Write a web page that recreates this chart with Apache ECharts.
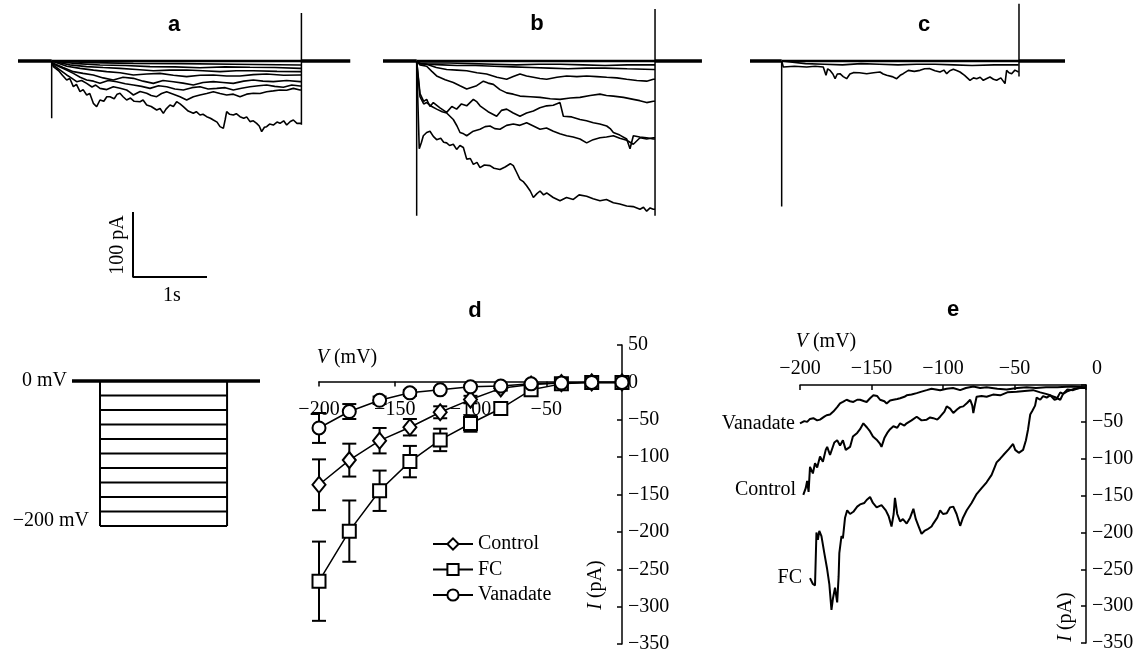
<!DOCTYPE html>
<html><head><meta charset="utf-8">
<script src="https://cdn.jsdelivr.net/npm/echarts@6/dist/echarts.min.js"></script>
<style>html,body{margin:0;padding:0;background:#fff}#c{width:1138px;height:654px}</style>
</head><body><div id="c"></div>
<script>
// ---------- Panel a (control traces): [time s, current pA] ----------
const aEdges = [0.455, 3.83, 4.49];          // step on, step off, end of record
const aSpikes = [-88, 74, -98];              // transient at on, at off (top, bottom)
const a1 = [[0.477,-8.7],[0.55,-15],[0.6,-22],[0.658,-29.2],[0.7,-27],[0.748,-39.5],[0.79,-36],[0.838,-47.2],[0.88,-44],[0.928,-52.3],[0.97,-50],[1.018,-65.1],[1.063,-70.3],[1.108,-60],[1.16,-62],[1.2,-55],[1.243,-54.9],[1.3,-58],[1.34,-51],[1.378,-49.7],[1.42,-55],[1.468,-60],[1.52,-57],[1.57,-62],[1.649,-62.6],[1.69,-60],[1.739,-67.7],[1.8,-70],[1.874,-75.4],[1.92,-73],[1.964,-80.5],[2.0,-74],[2.054,-67.7],[2.1,-70],[2.144,-62.6],[2.19,-66],[2.234,-70.3],[2.3,-77],[2.369,-80.5],[2.41,-78],[2.459,-83.1],[2.5,-82],[2.55,-85.6],[2.6,-88],[2.64,-90.8],[2.69,-94],[2.73,-101],[2.775,-103.6],[2.8,-90],[2.82,-77.9],[2.86,-82],[2.91,-83.1],[2.95,-81],[3.0,-85.6],[3.05,-88],[3.09,-86],[3.135,-93.3],[3.18,-92],[3.225,-95.9],[3.26,-100],[3.293,-108.7],[3.33,-102],[3.36,-101],[3.4,-97],[3.45,-98.5],[3.5,-94],[3.541,-95.9],[3.59,-92],[3.631,-98.5],[3.68,-93],[3.721,-90.8],[3.77,-96],[3.811,-95.9]];
const a2 = [[0.477,-6.2],[0.57,-14],[0.658,-21.5],[0.72,-26],[0.793,-31.8],[0.86,-30],[0.928,-34.4],[1.0,-40],[1.05,-37],[1.108,-42.1],[1.2,-44],[1.288,-39.5],[1.38,-42],[1.468,-44.6],[1.51,-48],[1.559,-52.3],[1.65,-47],[1.739,-49.7],[1.8,-53],[1.874,-54.9],[1.94,-50],[2.009,-47.2],[2.1,-51],[2.189,-54.9],[2.279,-60],[2.37,-55],[2.459,-52.3],[2.55,-50],[2.64,-47.2],[2.73,-50],[2.82,-52.3],[2.91,-51],[3.0,-54.9],[3.09,-51],[3.18,-49.7],[3.27,-50],[3.36,-47.2],[3.45,-46],[3.541,-44.6],[3.63,-45],[3.721,-42.1],[3.811,-44.6]];
const a3 = [[0.477,-4.6],[0.62,-12],[0.748,-19],[0.84,-25],[0.928,-29.2],[1.02,-31],[1.108,-34.4],[1.22,-30],[1.333,-31.8],[1.45,-35],[1.559,-36.9],[1.67,-39],[1.784,-42.1],[1.9,-38],[2.009,-39.5],[2.12,-43],[2.234,-44.6],[2.35,-41],[2.459,-39.5],[2.57,-43],[2.685,-42.1],[2.8,-41],[2.91,-44.6],[3.02,-42],[3.135,-39.5],[3.25,-38],[3.36,-36.9],[3.47,-39],[3.586,-40.5],[3.7,-37],[3.811,-38.5]];
const a4 = [[0.477,-3.6],[0.61,-10],[0.748,-16.4],[0.88,-19],[1.018,-21.5],[1.15,-26],[1.288,-29.2],[1.42,-25],[1.559,-26.7],[1.69,-31],[1.829,-34.4],[1.96,-30],[2.099,-31.8],[2.23,-34],[2.369,-36.9],[2.5,-33],[2.64,-31.8],[2.77,-33],[2.91,-34.4],[3.05,-31],[3.18,-29.2],[3.31,-31],[3.45,-31.8],[3.63,-30],[3.811,-31.8]];
const a5 = [[0.477,-2.6],[0.66,-8],[0.838,-11.3],[1.02,-14],[1.198,-16.4],[1.38,-18],[1.559,-21.5],[1.74,-20],[1.919,-19],[2.1,-22],[2.279,-24.1],[2.46,-22],[2.64,-21.5],[2.82,-23],[3.0,-23.1],[3.18,-21],[3.36,-20],[3.59,-22],[3.811,-21.5]];
const a6 = [[0.477,-2.1],[0.7,-6],[0.928,-8.7],[1.15,-10],[1.378,-11.3],[1.6,-13],[1.829,-14.9],[2.05,-14],[2.279,-13.8],[2.5,-15],[2.73,-16.4],[2.95,-15],[3.18,-14.9],[3.5,-16],[3.811,-16.4]];
const a7 = [[0.477,-1.5],[0.8,-4],[1.108,-6.2],[1.45,-7],[1.784,-8.7],[2.12,-9],[2.459,-10.3],[2.8,-9],[3.135,-9.7],[3.47,-10],[3.811,-11.3]];
const a8 = [[0.477,-1],[1.0,-2.5],[1.559,-3.6],[2.2,-4],[2.91,-5.1],[3.811,-6.2]];

// ---------- Panel b (FC traces) ----------
const bEdges = [0.455, 3.676, 4.31];
const bSpikes = [-238, 80, -238];
const b1 = [[0.49,-135],[0.52,-125],[0.545,-115],[0.59,-110],[0.635,-108],[0.68,-116],[0.725,-121],[0.78,-119],[0.82,-125],[0.86,-126],[0.9,-130],[0.95,-128],[0.995,-136],[1.04,-130],[1.086,-133],[1.131,-151],[1.18,-150],[1.221,-159],[1.27,-156],[1.311,-164],[1.37,-160],[1.446,-161],[1.5,-165],[1.581,-167],[1.65,-163],[1.72,-158],[1.761,-161],[1.8,-170],[1.851,-182],[1.9,-186],[1.941,-192],[1.99,-200],[2.032,-210],[2.08,-204],[2.122,-200],[2.17,-206],[2.212,-203],[2.3,-210],[2.392,-215],[2.48,-210],[2.572,-213],[2.65,-206],[2.752,-208],[2.84,-212],[2.932,-215],[3.02,-213],[3.113,-218],[3.2,-220],[3.293,-223],[3.38,-224],[3.473,-228],[3.52,-225],[3.563,-231],[3.61,-226],[3.653,-228]];
const b2 = [[0.5,-50],[0.55,-62],[0.59,-59],[0.635,-70],[0.68,-64],[0.77,-72],[0.86,-79],[0.93,-70],[0.995,-74],[1.06,-66],[1.131,-69],[1.221,-59],[1.27,-63],[1.311,-69],[1.42,-78],[1.536,-85],[1.6,-76],[1.671,-74],[1.76,-80],[1.851,-85],[1.94,-80],[2.032,-77],[2.12,-72],[2.212,-69],[2.3,-68],[2.392,-64],[2.437,-85],[2.55,-86],[2.662,-90],[2.75,-92],[2.842,-95],[2.93,-97],[3.023,-100],[3.07,-104],[3.113,-110],[3.2,-114],[3.293,-120],[3.338,-135],[3.383,-115],[3.47,-117],[3.563,-118],[3.653,-120]];
const b3 = [[0.5,-55],[0.55,-66],[0.59,-64],[0.66,-70],[0.725,-74],[0.8,-78],[0.86,-80],[0.95,-90],[1.0,-100],[1.041,-110],[1.09,-112],[1.131,-115],[1.22,-108],[1.311,-105],[1.38,-101],[1.446,-100],[1.51,-104],[1.581,-105],[1.67,-99],[1.761,-97],[1.85,-99],[1.941,-95],[2.032,-100],[2.122,-105],[2.21,-103],[2.302,-108],[2.39,-112],[2.482,-115],[2.57,-117],[2.662,-120],[2.752,-126],[2.84,-121],[2.932,-118],[3.02,-117],[3.113,-115],[3.2,-119],[3.293,-122],[3.383,-128],[3.473,-118],[3.563,-120],[3.653,-118]];
const b4 = [[0.5,-6],[0.59,-8],[0.66,-16],[0.725,-23],[0.84,-29],[0.95,-33],[1.04,-38],[1.131,-43],[1.266,-38],[1.356,-31],[1.42,-34],[1.491,-36],[1.58,-44],[1.671,-49],[1.76,-51],[1.851,-54],[1.99,-55],[2.122,-56],[2.26,-58],[2.392,-59],[2.53,-57],[2.662,-56],[2.8,-53],[2.932,-51],[3.02,-53],[3.113,-54],[3.25,-56],[3.383,-59],[3.47,-61],[3.563,-64],[3.653,-62]];
const b5 = [[0.5,-4],[0.59,-5],[0.72,-10],[0.86,-13],[1.0,-14],[1.131,-15],[1.27,-18],[1.4,-20],[1.54,-25],[1.671,-28],[1.76,-24],[1.851,-20],[1.94,-23],[2.032,-25],[2.12,-27],[2.212,-28],[2.35,-25],[2.482,-23],[2.62,-24],[2.752,-23],[2.89,-24],[3.023,-25],[3.16,-26],[3.293,-28],[3.43,-30],[3.563,-31],[3.653,-28]];
const b6 = [[0.5,-4],[0.59,-5],[0.8,-6],[1.0,-7],[1.25,-7],[1.5,-8],[1.75,-9],[2.0,-10],[2.25,-11],[2.5,-12],[2.75,-11],[3.0,-11],[3.3,-12],[3.653,-13]];
const b7 = [[0.5,-3],[0.59,-3],[0.9,-3],[1.2,-4],[1.5,-5],[1.8,-6],[2.1,-5],[2.4,-5],[2.7,-6],[3.0,-7],[3.3,-6],[3.653,-6]];

// ---------- Panel c (vanadate traces) ----------
const cEdges = [0.428, 3.635, 4.257];
const cSpikes = [-224, 88, -24];
const c1 = [[0.45,-9.2],[0.6,-8],[0.766,-9.2],[0.88,-8],[0.99,-9.2],[1.027,-22],[1.05,-12],[1.08,-14.4],[1.12,-20],[1.15,-27.2],[1.18,-20],[1.216,-19.5],[1.26,-24],[1.306,-27.2],[1.35,-20],[1.396,-17.9],[1.48,-18],[1.577,-19.5],[1.67,-18],[1.757,-16.9],[1.8,-20],[1.847,-22],[1.92,-24],[1.982,-27.2],[2.03,-22],[2.07,-19.5],[2.14,-14.4],[2.22,-16],[2.297,-14.4],[2.36,-12],[2.432,-11.8],[2.5,-15],[2.568,-16.9],[2.62,-14],[2.658,-19.5],[2.7,-15],[2.748,-12.8],[2.8,-15],[2.838,-16.9],[2.9,-22],[2.973,-29.7],[3.02,-26],[3.063,-27.2],[3.11,-25],[3.153,-29.7],[3.2,-27],[3.243,-24.6],[3.29,-28],[3.333,-29.7],[3.39,-26],[3.446,-34.8],[3.468,-14.4],[3.5,-18],[3.536,-19.5],[3.58,-14],[3.63,-16.9]];
const c2 = [[0.45,-3],[0.75,-4],[1.0,-5],[1.25,-6],[1.5,-4],[1.75,-5],[2.0,-6],[2.25,-5],[2.5,-5],[2.75,-6],[3.0,-7],[3.3,-6],[3.63,-6]];

// ---------- Scale bar and voltage protocol ----------
const scaleBar = [[0,100],[0,0],[1,0]];      // 100 pA, 1 s
const protoTimes = [0, 0.378, 2.095, 2.54];  // start, step on, step off, end
const protoLevels = [0,-20,-40,-60,-80,-100,-120,-140,-160,-180,-200];

// ---------- Panel d (I-V, mean ± SE) ----------
const dVoltage = [-200,-180,-160,-140,-120,-100,-80,-60,-40,-20,0];
const controlMean = [-137,-104,-78,-60,-40,-23,-8,-3,-1,0,0];
const controlSE   = [34,22,17,11,8,5,3,2,1,0,0];
const fcMean = [-266,-199,-145,-106,-77,-55,-35,-10,-2,0,0];
const fcSE   = [53,41,27,21,15,11,8,3,1,0,0];
const vanMean = [-61,-39,-24,-14,-10,-6,-5,-2,-1,0,0];
const vanSE   = [20,10,5,4,2,2,2,1,1,0,0];
const dXTicks = [-200,-150,-100,-50,0];

// ---------- Panel e (ramp I-V): [V mV, I pA] ----------
const eFC = [[-193,-262],[-191,-270],[-189.5,-272],[-188.5,-200],[-187.5,-210],[-186.5,-198],[-185,-205],[-183,-228],[-181,-250],[-179.5,-270],[-178,-305],[-177,-290],[-175.5,-275],[-174,-295],[-173,-260],[-172.5,-228],[-171,-205],[-170,-208],[-168.5,-180],[-167,-170],[-165,-175],[-162.7,-172],[-160,-165],[-158,-162],[-155,-160],[-153.4,-156],[-151,-152],[-149,-160],[-146.4,-166],[-143,-163],[-140,-170],[-138,-178],[-136,-192],[-134.5,-175],[-133.6,-153],[-132,-175],[-130,-185],[-128,-182],[-125.4,-188],[-123,-180],[-120.7,-168],[-119,-182],[-117,-192],[-115,-202],[-113,-198],[-111,-196],[-108,-192],[-106.8,-188],[-104,-180],[-102,-170],[-100,-175],[-97.4,-174],[-95,-166],[-92.8,-165],[-90.5,-175],[-88,-191],[-86,-180],[-83.4,-170],[-80,-160],[-76.5,-148],[-73,-140],[-69.5,-132],[-66,-122],[-62.5,-105],[-60,-100],[-57.8,-95],[-54,-87],[-51,-80],[-49.5,-88],[-47,-92],[-44,-88],[-42,-75],[-40.5,-60],[-39,-40],[-37.5,-35],[-35.6,-28],[-34.5,-17],[-32,-20],[-30,-15],[-27.5,-17],[-25,-14],[-22,-20],[-20.5,-19],[-18,-10],[-16,-12],[-13,-6],[-9,-7],[-5,-4],[0,-3]];
const eControl = [[-197.7,-149],[-196,-140],[-195,-130],[-194,-145],[-193,-111],[-191,-120],[-189.5,-106],[-188,-112],[-186,-97],[-184,-104],[-182,-88],[-181,-84],[-179,-95],[-178,-93],[-176,-78],[-174,-75],[-172,-82],[-170,-75],[-168,-88],[-165,-84],[-163,-70],[-160,-65],[-158,-60],[-155.7,-52],[-153,-58],[-151,-63],[-149,-70],[-146,-75],[-144,-80],[-143,-84],[-141,-72],[-139,-65],[-137,-60],[-134.7,-56],[-132,-58],[-130,-52],[-127,-55],[-125.4,-52],[-122,-48],[-118.4,-43],[-115,-48],[-111.4,-47],[-109,-44],[-106.8,-45],[-104,-47],[-102,-43],[-99,-36],[-97.4,-29],[-95,-32],[-92.8,-38],[-90,-33],[-88,-30],[-85.8,-29],[-83,-24],[-81,-20],[-79.5,-28],[-78.8,-38],[-77.5,-25],[-76.5,-16],[-73,-15],[-69.5,-16],[-65,-13],[-60,-14],[-55,-10],[-48.5,-9],[-43,-8],[-37,-7],[-32,-10],[-28,-12],[-25,-14],[-21,-17],[-18,-20],[-16,-12],[-13.5,-9],[-8,-5],[-4,-4],[0,-4]];
const eVanadate = [[-200,-52],[-197,-49],[-195,-50],[-193,-46],[-190.7,-45],[-188,-48],[-186,-47],[-183,-43],[-181.4,-41],[-179,-40],[-176.7,-36],[-174,-30],[-172,-25],[-170,-23],[-167.4,-20],[-165,-22],[-162.7,-23],[-160,-20],[-158,-20],[-155,-22],[-153.4,-23],[-151,-18],[-148.7,-14],[-146,-15],[-144,-20],[-141,-22],[-139.4,-25],[-137,-21],[-134.7,-20],[-132,-19],[-130,-18],[-127,-16],[-125.4,-14],[-122,-13],[-118.4,-11],[-115,-9],[-111.4,-7],[-108,-5],[-106.8,-5],[-102,-7],[-97.4,-5],[-93,-4],[-88,-7],[-84,-4],[-78.8,-2],[-74,-4],[-69.5,-3],[-62,-5],[-55.5,-6],[-48,-4],[-41.5,-3],[-35,-4],[-28,-3],[-20,-3],[-10,-2],[0,-3]];

// ---------- build ----------
const SERIF = 'Liberation Serif';
const SANS = 'Liberation Sans';
const BLACK = '#000';
const minus = v => (v < 0 ? '\u2212' : '') + Math.abs(v);

function ln(gi, data, w, z) {
  return {type:'line', xAxisIndex:gi, yAxisIndex:gi, data:data, showSymbol:false, symbol:'none',
    clip:false, silent:true, animation:false, z:z||2, lineStyle:{color:BLACK, width:w}};
}
function tracePanel(gi, edges, spikes, traces, series) {
  const [tOn, tOff, tEnd] = edges;
  series.push(ln(gi, [[0,0],[tOn,0]], 3.5));
  series.push(ln(gi, [[tOff,0],[tEnd,0]], 3.5));
  series.push(ln(gi, [[tOn,0],[tOn,spikes[0]]], 1.5));
  series.push(ln(gi, [[tOff,spikes[2]],[tOff,spikes[1]]], 1.5));
  series.push(ln(gi, [[tOn,0],[tOff,0]], 2.5));
  traces.forEach(tr => {
    const d = [[tOn,0]].concat(tr).concat([[tOff, tr[tr.length-1][1]]]);
    series.push(ln(gi, d, 1.6));
  });
}

const series = [];
tracePanel(0, aEdges, aSpikes, [a1,a2,a3,a4,a5,a6,a7,a8], series);
tracePanel(1, bEdges, bSpikes, [b1,b2,b3,b4,b5,b6,b7], series);
tracePanel(2, cEdges, cSpikes, [c1,c2], series);
series.push(ln(3, scaleBar, 2));
// protocol
series.push(ln(4, [[protoTimes[0],0],[protoTimes[3],0]], 3.5));
series.push(ln(4, [[protoTimes[1],0],[protoTimes[1],protoLevels[protoLevels.length-1]]], 2));
series.push(ln(4, [[protoTimes[2],0],[protoTimes[2],protoLevels[protoLevels.length-1]]], 2));
protoLevels.slice(1).forEach(v => series.push(ln(4, [[protoTimes[1],v],[protoTimes[2],v]], 2.2)));

// panel d
function errRender(params, api) {
  const v = api.value(0), m = api.value(1), se = api.value(2);
  if (!se) return {type:'group', children:[]};
  const t = api.coord([v, m + se]), b = api.coord([v, m - se]);
  const cap = 7, st = {stroke:BLACK, lineWidth:2};
  return {type:'group', children:[
    {type:'line', shape:{x1:t[0],y1:t[1],x2:b[0],y2:b[1]}, style:st},
    {type:'line', shape:{x1:t[0]-cap,y1:t[1],x2:t[0]+cap,y2:t[1]}, style:st},
    {type:'line', shape:{x1:b[0]-cap,y1:b[1],x2:b[0]+cap,y2:b[1]}, style:st}
  ]};
}
const dSets = [
  ['Control', controlMean, controlSE, 'diamond', [13,16]],
  ['FC', fcMean, fcSE, 'rect', 13],
  ['Vanadate', vanMean, vanSE, 'circle', 13]
];
dSets.forEach(([name, mean, se]) => {
  series.push({type:'custom', xAxisIndex:5, yAxisIndex:5, silent:true, animation:false, z:2,
    encode:{x:0, y:1}, renderItem:errRender,
    data: dVoltage.map((v,i) => [v, mean[i], se[i]])});
});
dSets.forEach(([name, mean, se, sym, size]) => {
  series.push({type:'line', name:name, xAxisIndex:5, yAxisIndex:5, silent:true, animation:false, z:3,
    clip:false, symbol:sym, symbolSize:size, showAllSymbol:true,
    data: dVoltage.map((v,i) => [v, mean[i]]),
    lineStyle:{color:BLACK, width:1.5},
    itemStyle:{color:'#fff', borderColor:BLACK, borderWidth:2}});
});
// panel e
[eFC, eControl, eVanadate].forEach(d => series.push(ln(6, d, 2)));

const hiddenX = (gi, max) => ({gridIndex:gi, type:'value', min:0, max:max, show:false});
const hiddenY = (gi, min, max) => ({gridIndex:gi, type:'value', min:min, max:max, show:false});
const axLine = {show:true, onZero:false, lineStyle:{color:BLACK, width:1.5}};
const lbl = {color:BLACK, fontFamily:SERIF, fontSize:20};
// d: x axis drawn at I = 0 (offset up from the grid bottom by the 0..-350 span)
const dGrid = {left:319, top:345, width:303, height:300};
const dYMin = -350, dYMax = 50;
const dZeroOffset = dGrid.height * (0 - dYMin) / (dYMax - dYMin);

const option = {
  animation:false,
  backgroundColor:'#fff',
  grid:[
    {left:18, top:2.5, width:333, height:227.5},
    {left:383, top:2.5, width:333, height:227.5},
    {left:750, top:2.5, width:333, height:227.5},
    {left:133, top:212, width:74, height:65},
    {left:72, top:381, width:188, height:145},
    dGrid,
    {left:800, top:385, width:286, height:258}
  ],
  xAxis:[
    hiddenX(0,4.5), hiddenX(1,4.5), hiddenX(2,4.5), hiddenX(3,1), hiddenX(4,protoTimes[3]),
    {gridIndex:5, type:'value', position:'bottom', offset:-dZeroOffset,
     min:dXTicks[0], max:dXTicks[dXTicks.length-1], interval:50,
     axisLine:axLine, axisTick:{show:true, length:5, lineStyle:{color:BLACK, width:1.5}},
     splitLine:{show:false},
     axisLabel:Object.assign({margin:18, formatter:v => v === 0 ? '' : minus(v)}, lbl)},
    {gridIndex:6, type:'value', position:'top', min:-200, max:0, interval:50,
     axisLine:axLine, axisTick:{show:true, inside:true, length:5, lineStyle:{color:BLACK, width:1.5}},
     splitLine:{show:false},
     axisLabel:Object.assign({margin:6, formatter:v => v === 0 ? '{z|0}' : minus(v),
       rich:{z:{fontFamily:SERIF, fontSize:20, color:BLACK, padding:[0,0,0,22]}}}, lbl)}
  ],
  yAxis:[
    hiddenY(0,-260,90), hiddenY(1,-260,90), hiddenY(2,-260,90), hiddenY(3,0,100),
    hiddenY(4,protoLevels[protoLevels.length-1],0),
    {gridIndex:5, type:'value', position:'right', min:dYMin, max:dYMax, interval:50,
     axisLine:axLine, axisTick:{show:true, inside:true, length:5, lineStyle:{color:BLACK, width:1.5}},
     splitLine:{show:false},
     axisLabel:Object.assign({margin:6, formatter:minus}, lbl)},
    {gridIndex:6, type:'value', position:'right', min:-350, max:0, interval:50,
     axisLine:axLine, axisTick:{show:true, inside:true, length:5, lineStyle:{color:BLACK, width:1.5}},
     splitLine:{show:false},
     axisLabel:Object.assign({margin:6, formatter:v => v === 0 ? '' : minus(v)}, lbl)}
  ],
  legend:{data:['Control','FC','Vanadate'], orient:'vertical', left:427, top:529,
    itemWidth:40, itemHeight:14, itemGap:5.5, selectedMode:false,
    textStyle:{color:BLACK, fontFamily:SERIF, fontSize:20}},
  graphic:[
    ...[['a',174,25],['b',537,24],['c',924,25],['d',475,311],['e',953,310]].map(([t,x,y]) => ({
      type:'text', x:x, y:y, silent:true,
      style:{text:t, font:'bold 22px "' + SANS + '"', fill:BLACK, align:'center', verticalAlign:'middle', textAlign:'center', textVerticalAlign:'middle'}})),
    {type:'text', x:118, y:245, rotation:Math.PI/2, silent:true,
     style:{text:'100 pA', font:'20px "' + SERIF + '"', fill:BLACK, align:'center', verticalAlign:'middle', textAlign:'center', textVerticalAlign:'middle'}},
    {type:'text', x:172, y:296, silent:true,
     style:{text:'1s', font:'20px "' + SERIF + '"', fill:BLACK, align:'center', verticalAlign:'middle', textAlign:'center', textVerticalAlign:'middle'}},
    {type:'text', x:67, y:381, silent:true,
     style:{text:'0 mV', font:'20px "' + SERIF + '"', fill:BLACK, align:'right', verticalAlign:'middle', textAlign:'right', textVerticalAlign:'middle'}},
    {type:'text', x:89, y:521, silent:true,
     style:{text:'\u2212200 mV', font:'20px "' + SERIF + '"', fill:BLACK, align:'right', verticalAlign:'middle', textAlign:'right', textVerticalAlign:'middle'}},
    {type:'text', x:347, y:358, silent:true,
     style:{text:'{i|V} (mV)', font:'20px "' + SERIF + '"', fill:BLACK, align:'center', verticalAlign:'middle', textAlign:'center', textVerticalAlign:'middle',
       rich:{i:{fontStyle:'italic', fontFamily:SERIF, fontSize:20, fill:BLACK}}}},
    {type:'text', x:826, y:342, silent:true,
     style:{text:'{i|V} (mV)', font:'20px "' + SERIF + '"', fill:BLACK, align:'center', verticalAlign:'middle', textAlign:'center', textVerticalAlign:'middle',
       rich:{i:{fontStyle:'italic', fontFamily:SERIF, fontSize:20, fill:BLACK}}}},
    {type:'text', x:596, y:585, rotation:Math.PI/2, silent:true,
     style:{text:'{i|I} (pA)', font:'20px "' + SERIF + '"', fill:BLACK, align:'center', verticalAlign:'middle', textAlign:'center', textVerticalAlign:'middle',
       rich:{i:{fontStyle:'italic', fontFamily:SERIF, fontSize:20, fill:BLACK}}}},
    {type:'text', x:1066, y:617, rotation:Math.PI/2, silent:true,
     style:{text:'{i|I} (pA)', font:'20px "' + SERIF + '"', fill:BLACK, align:'center', verticalAlign:'middle', textAlign:'center', textVerticalAlign:'middle',
       rich:{i:{fontStyle:'italic', fontFamily:SERIF, fontSize:20, fill:BLACK}}}},
    ...[['Vanadate',795,424],['Control',796,490],['FC',802,578]].map(([t,x,y]) => ({
      type:'text', x:x, y:y, silent:true,
      style:{text:t, font:'20px "' + SERIF + '"', fill:BLACK, align:'right', verticalAlign:'middle', textAlign:'right', textVerticalAlign:'middle'}}))
  ],
  series:series
};
const chart = echarts.init(document.getElementById('c'), null, {renderer:'canvas'});
chart.setOption(option);
</script></body></html>
